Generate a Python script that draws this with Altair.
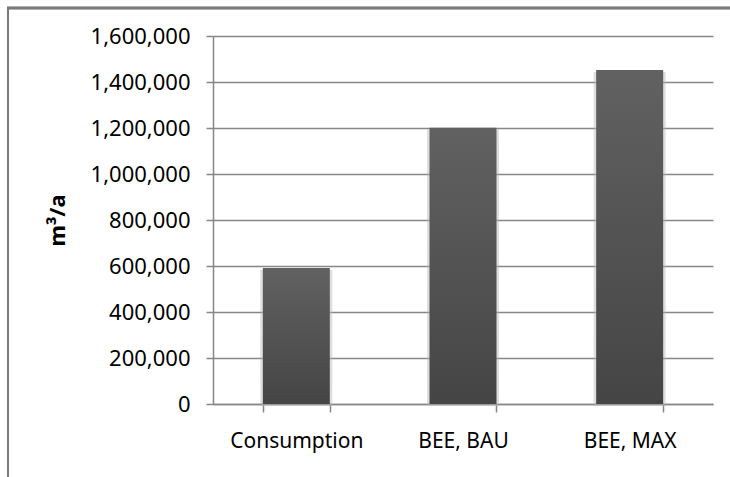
import altair as alt
import pandas as pd

categories = ["Consumption", "BEE, BAU", "BEE, MAX"]
values = [591000, 1201000, 1452000]
y_ticks = [0, 200000, 400000, 600000, 800000, 1000000, 1200000, 1400000, 1600000]

df = pd.DataFrame({"category": categories, "value": values})

FONT = "Noto Sans"
GRAY = "#878787"

x_enc = alt.X(
    "category:N",
    sort=categories,
    title=None,
    scale=alt.Scale(paddingInner=0.6, paddingOuter=0.3),
    axis=alt.Axis(
        labelAngle=0,
        labelFont=FONT,
        labelFontSize=21,
        labelColor="#000000",
        labelPadding=18,
        tickBand="extent",
        tickSize=8,
        tickColor=GRAY,
        tickWidth=1.5,
        domainColor=GRAY,
        domainWidth=1.5,
        grid=False,
    ),
)
y_enc = alt.Y(
    "value:Q",
    title="m³/a",
    scale=alt.Scale(domain=[0, 1600000], nice=False),
    axis=alt.Axis(
        values=y_ticks,
        format=",d",
        labelFont=FONT,
        labelFontSize=22,
        labelColor="#000000",
        labelPadding=16,
        tickSize=7,
        tickColor=GRAY,
        tickWidth=1.5,
        domainColor=GRAY,
        domainWidth=1.5,
        gridColor=GRAY,
        gridWidth=1.5,
        titleFont=FONT,
        titleFontSize=22,
        titleFontWeight="bold",
        titleColor="#000000",
        titleAngle=-90,
        titleAlign="center",
        titleBaseline="middle",
        titleX=-156,
        titleY=184,
    ),
)

base = alt.Chart(df)

shadow = base.mark_bar(size=72, color="#b5b5b5", opacity=0.45, yOffset=2).encode(
    x=x_enc, y=y_enc
)

bars = base.mark_bar(
    size=67,
    color=alt.Gradient(
        gradient="linear",
        stops=[
            alt.GradientStop(color="#616161", offset=0),
            alt.GradientStop(color="#454545", offset=1),
        ],
        x1=0, x2=0, y1=0, y2=1,
    ),
).encode(x=x_enc, y=y_enc)

frame_left = alt.Chart(df).mark_rule(color="#7a7a7a", strokeWidth=2).encode(
    x=alt.value(-205), x2=alt.value(-205), y=alt.value(-28), y2=alt.value(460)
)
frame_top = alt.Chart(df).mark_rule(color="#7a7a7a", strokeWidth=2.5).encode(
    x=alt.value(-206), x2=alt.value(540), y=alt.value(-28), y2=alt.value(-28)
)

chart = (
    alt.layer(shadow, bars, frame_left, frame_top)
    .properties(
        width=500,
        height=368,
        autosize=alt.AutoSizeParams(type="none"),
        padding={"left": 213, "top": 36, "right": 17, "bottom": 73},
    )
    .configure_view(stroke=None)
)

chart.save("out.html", embed_options={"renderer": "svg", "actions": False})
